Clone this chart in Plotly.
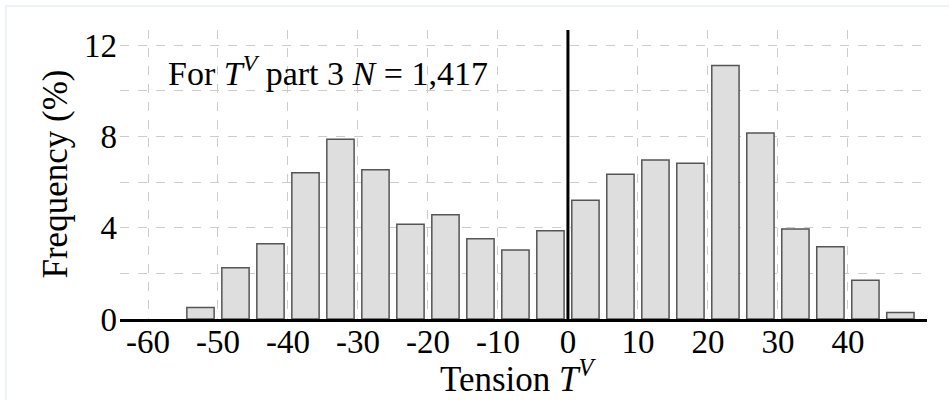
import plotly.graph_objects as go

# Data
bin_centers = [-52.5, -47.5, -42.5, -37.5, -32.5, -27.5, -22.5, -17.5, -12.5, -7.5, -2.5,
               2.5, 7.5, 12.5, 17.5, 22.5, 27.5, 32.5, 37.5, 42.5, 47.5]
frequency = [0.5, 2.25, 3.3, 6.41, 7.87, 6.54, 4.15, 4.57, 3.52, 3.02, 3.87,
             5.2, 6.34, 6.96, 6.82, 11.11, 8.15, 3.94, 3.17, 1.70, 0.29]
x_ticks = [-60, -50, -40, -30, -20, -10, 0, 10, 20, 30, 40]
y_ticks = [0, 4, 8, 12]

FONT = "Liberation Serif"

fig = go.Figure()
fig.add_trace(go.Bar(
    x=bin_centers, y=frequency, width=3.9,
    marker=dict(color="#dedede", line=dict(color="#555555", width=1.5)),
    hoverinfo="skip",
))

fig.update_layout(
    width=949, height=400,
    margin=dict(l=120, r=22, t=30, b=81),
    paper_bgcolor="white", plot_bgcolor="white",
    showlegend=False,
    font=dict(family=FONT, color="black", size=33),
    xaxis=dict(
        range=[-64, 51.3], tickvals=x_ticks, ticktext=[str(v) for v in x_ticks],
        showgrid=True, gridcolor="#cccccc", griddash="dash", gridwidth=1,
        zeroline=False, showline=True, linecolor="black", linewidth=3,
        ticks="", tickfont=dict(family=FONT, size=33), ticklabelstandoff=-9,
    ),
    yaxis=dict(
        range=[0, 12.66], tickvals=y_ticks,
        showgrid=True, gridcolor="#cccccc", griddash="dash", gridwidth=1,
        minor=dict(dtick=2, tick0=0, showgrid=True, gridcolor="#cccccc", griddash="dash", gridwidth=1),
        zeroline=False, showline=False, ticks="",
        tickfont=dict(family=FONT, size=33), ticklabelstandoff=2,
    ),
    shapes=[
        dict(type="line", xref="x", yref="paper", x0=0, x1=0, y0=0, y1=1,
             line=dict(color="black", width=3), layer="above"),
        dict(type="rect", xref="paper", yref="paper",
             x0=(6 - 120) / 807, x1=1.2, y0=1 + 24 / 289, y1=-0.5,
             line=dict(color="#edf2f5", width=2), layer="below"),
    ],
    annotations=[
        dict(text="For <i>T</i><sup><i>V</i></sup> part 3 <i>N</i> = 1,417",
             xref="paper", yref="paper", x=(166 - 120) / 807, y=(319 - 71) / 289,
             xanchor="left", yanchor="middle", showarrow=False,
             font=dict(family=FONT, size=34)),
        dict(text="Tension <i>T</i><sup><i>V</i></sup>",
             xref="paper", yref="paper", x=(518 - 120) / 807, y=(319 - 376) / 289,
             xanchor="center", yanchor="middle", showarrow=False,
             font=dict(family=FONT, size=35)),
        dict(text="Frequency (%)", textangle=-90,
             xref="paper", yref="paper", x=(55 - 120) / 807, y=0.5,
             xanchor="center", yanchor="middle", showarrow=False,
             font=dict(family=FONT, size=35)),
    ],
)

fig.write_html("out.html")
